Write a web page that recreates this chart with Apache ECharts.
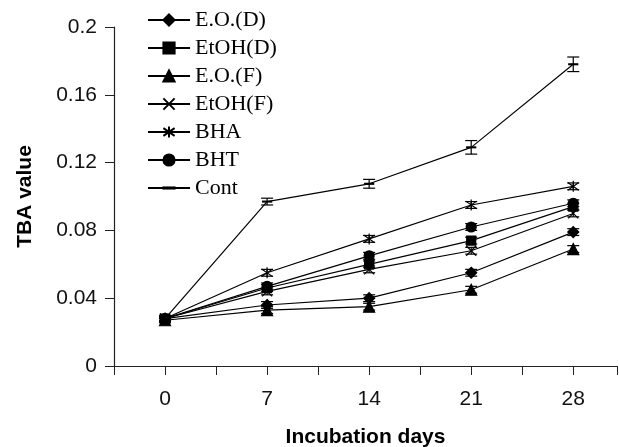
<!DOCTYPE html>
<html>
<head>
<meta charset="utf-8">
<script src="https://cdn.jsdelivr.net/npm/echarts@6/dist/echarts.min.js"></script>
<style>
  html, body { margin: 0; padding: 0; background: #fff; }
  #chart { width: 619px; height: 447px; }
</style>
</head>
<body>
<div id="chart"></div>
<script>
// data
const days = [0, 7, 14, 21, 28];
const eoD   = [0.028, 0.036, 0.040, 0.055, 0.079];
const etohD = [0.028, 0.046, 0.060, 0.074, 0.094];
const eoF   = [0.027, 0.033, 0.035, 0.045, 0.069];
const etohF = [0.028, 0.044, 0.057, 0.068, 0.090];
const bha   = [0.028, 0.055, 0.075, 0.095, 0.106];
const bht   = [0.028, 0.047, 0.065, 0.082, 0.096];
const cont  = [0.028, 0.097, 0.1075, 0.129, 0.178];
const contErr  = [0.0015, 0.0020, 0.0026, 0.0040, 0.0043];
const otherErr = [0.0015, 0.0020, 0.0020, 0.0020, 0.0020];
const yTicks = [0, 0.04, 0.08, 0.12, 0.16, 0.2];

const crossPath = 'path://M0,0L10,10M10,0L0,10';
const starPath = 'path://M0,1.5L10,8.5M10,1.5L0,8.5M5,0L5,10';
// the empty moves keep the box square so the dash stays thin
const dashPath = 'path://M0,0M10,10M0,4.5L10,4.5L10,5.5L0,5.5Z';

const defs = [
  { name: 'E.O.(D)', data: eoD, symbol: 'diamond', size: 11 },
  { name: 'EtOH(D)', data: etohD, symbol: 'rect', size: 9 },
  { name: 'E.O.(F)', data: eoF, symbol: 'triangle', size: 11 },
  { name: 'EtOH(F)', data: etohF, symbol: crossPath, size: 10 },
  { name: 'BHA', data: bha, symbol: starPath, size: 11 },
  { name: 'BHT', data: bht, symbol: 'circle', size: 10 },
  { name: 'Cont', data: cont, symbol: dashPath, size: 9 }
];

function pairs(vals, errs) {
  return days.map((d, i) => errs ? [d, vals[i], errs[i]] : [d, vals[i]]);
}

function errorBar(params, api) {
  const x = api.value(0), y = api.value(1), e = api.value(2);
  const hi = api.coord([x, y + e]);
  const lo = api.coord([x, y - e]);
  const w = 6;
  const style = { stroke: '#000', lineWidth: 1.2 };
  return {
    type: 'group',
    children: [
      { type: 'line', shape: { x1: hi[0], y1: hi[1], x2: lo[0], y2: lo[1] }, style: style },
      { type: 'line', shape: { x1: hi[0] - w, y1: hi[1], x2: hi[0] + w, y2: hi[1] }, style: style },
      { type: 'line', shape: { x1: lo[0] - w, y1: lo[1], x2: lo[0] + w, y2: lo[1] }, style: style }
    ]
  };
}

const series = [];
defs.forEach(d => {
  series.push({
    name: d.name,
    type: 'line',
    data: pairs(d.data),
    color: '#000',
    symbol: d.symbol,
    symbolSize: d.size,
    symbolKeepAspect: true,
    showAllSymbol: true,
    lineStyle: { color: '#000', width: 1.2 },
    itemStyle: { color: '#000', borderColor: '#000', borderWidth: 1.2 },
    emphasis: { disabled: true },
    z: 3
  });
  series.push({
    type: 'custom',
    renderItem: errorBar,
    data: pairs(d.data, d.name === 'Cont' ? contErr : otherErr),
    z: 2,
    silent: true
  });
});

const chart = echarts.init(document.getElementById('chart'));
chart.setOption({
  animation: false,
  backgroundColor: '#fff',
  grid: { left: 114, top: 27, right: 2, bottom: 81, outerBoundsMode: 'none' },
  legend: {
    orient: 'vertical',
    left: 142,
    top: 4,
    itemWidth: 42,
    itemHeight: 14,
    itemGap: 6,
    data: defs.map(d => d.name),
    textStyle: { fontFamily: 'Liberation Serif', fontSize: 22, color: '#000', lineHeight: 22, padding: [0, 0, 0, 0] }
  },
  xAxis: {
    type: 'value',
    min: -3.5,
    max: 31,
    interval: 3.5,
    name: 'Incubation days',
    nameLocation: 'middle',
    nameGap: 61,
    nameTextStyle: { fontFamily: 'Liberation Sans', fontWeight: 'bold', fontSize: 21, color: '#000' },
    axisLine: { onZero: false, lineStyle: { color: '#222', width: 1.2 } },
    axisTick: { show: true, length: 9, lineStyle: { color: '#222' } },
    axisLabel: {
      margin: 23,
      fontFamily: 'Liberation Sans', fontSize: 21, color: '#111',
      formatter: v => (v >= 0 && v % 7 === 0) ? String(v) : ''
    },
    splitLine: { show: false }
  },
  yAxis: {
    type: 'value',
    min: yTicks[0],
    max: yTicks[yTicks.length - 1],
    interval: 0.04,
    name: 'TBA value',
    nameLocation: 'middle',
    nameGap: 78,
    nameTextStyle: { fontFamily: 'Liberation Sans', fontWeight: 'bold', fontSize: 21, color: '#000' },
    axisLine: { show: true, onZero: false, lineStyle: { color: '#222', width: 1.2 } },
    axisTick: { show: true, length: 9, lineStyle: { color: '#222' } },
    axisLabel: {
      margin: 17,
      fontFamily: 'Liberation Sans', fontSize: 21, color: '#111',
      formatter: v => String(+v.toFixed(2))
    },
    splitLine: { show: false }
  },
  series: series
});
</script>
</body>
</html>
